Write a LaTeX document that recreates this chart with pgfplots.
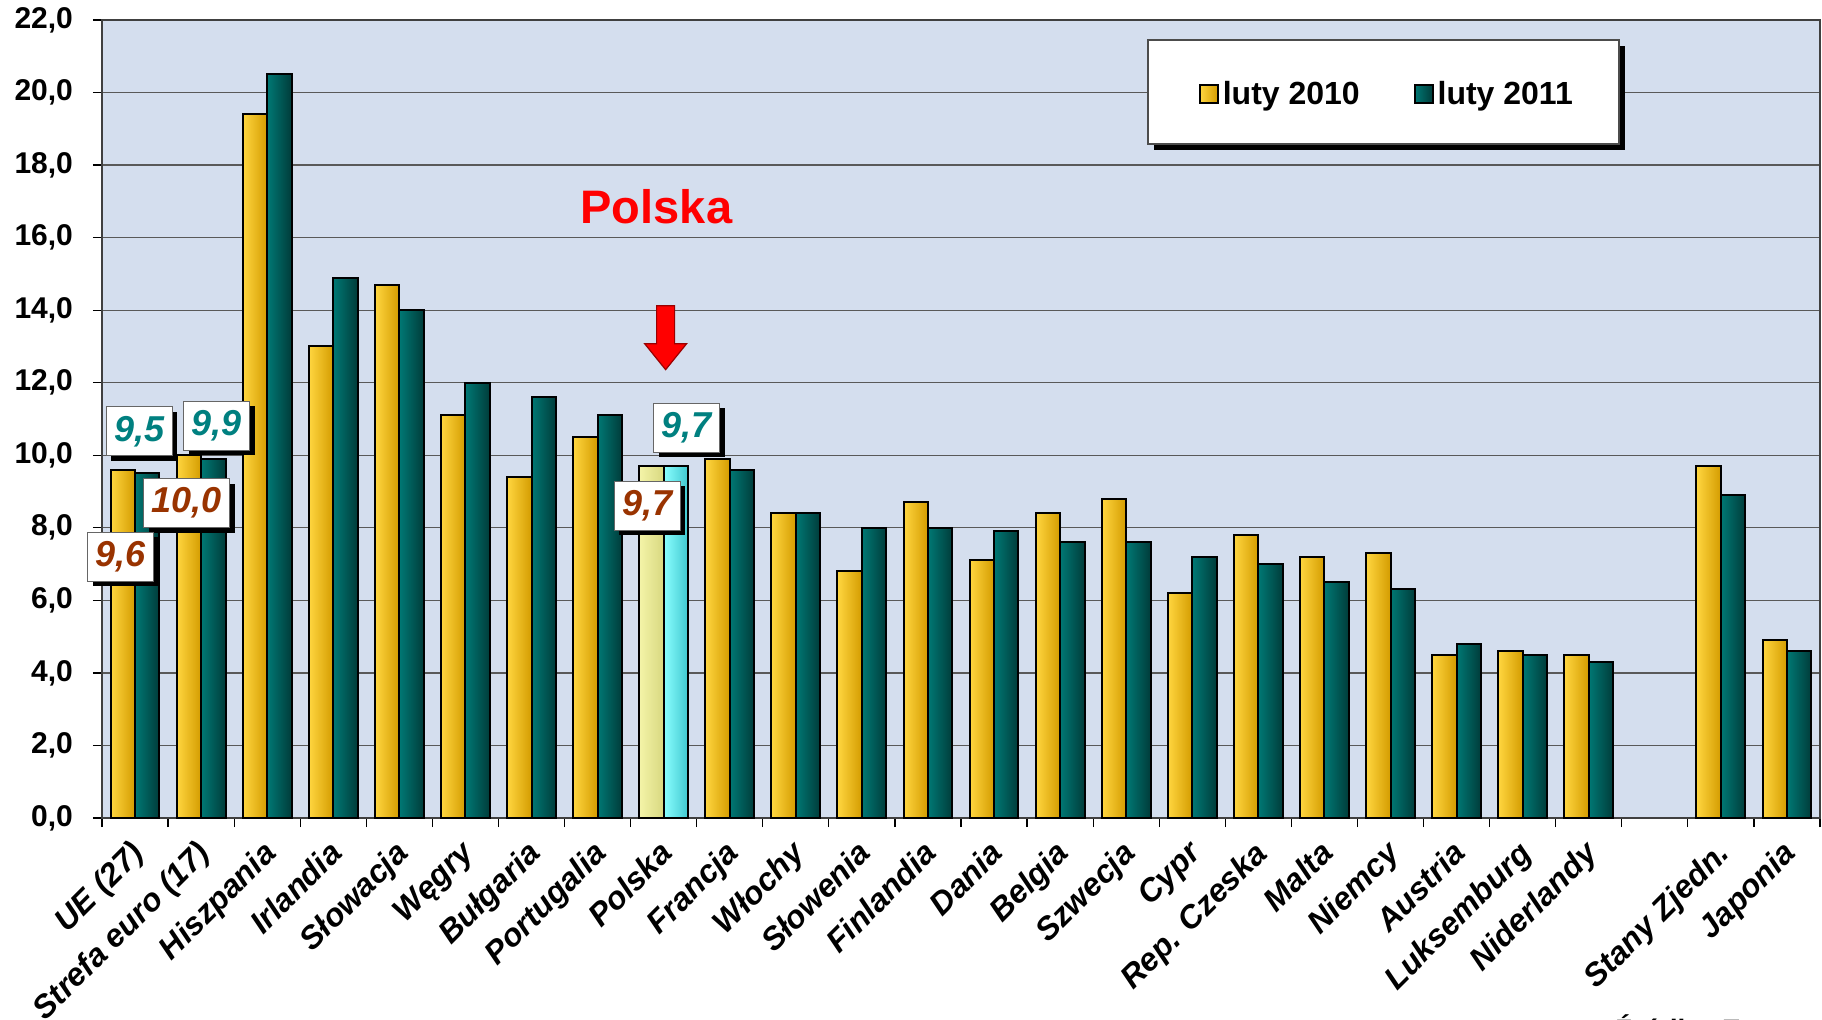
\documentclass[border=0pt]{standalone}
\usepackage{pgfplots}
\pgfplotsset{compat=1.18}
\usepackage{pgfplotstable}
\usepackage{fontspec}
\setmainfont{Liberation Sans}
\usetikzlibrary{shadows}
\definecolor{bgblue}{HTML}{D4DEEE}
\definecolor{yelL}{HTML}{FFD640}
\definecolor{yelM}{HTML}{FFCC00}
\definecolor{yelR}{HTML}{D49C00}
\definecolor{tealL}{HTML}{007874}
\definecolor{tealM}{HTML}{00625E}
\definecolor{tealR}{HTML}{003C3A}
\definecolor{plyL}{HTML}{F4F4A8}
\definecolor{plyM}{HTML}{FFFF9C}
\definecolor{plyR}{HTML}{D8D880}
\definecolor{plcL}{HTML}{8AFFFF}
\definecolor{plcM}{HTML}{66FFFF}
\definecolor{plcR}{HTML}{40C8D0}
\definecolor{labteal}{HTML}{008080}
\definecolor{labbrown}{HTML}{993300}

\pgfplotstableread{
x y2010 y2011
0 9.6 9.5
1 10.0 9.9
2 19.4 20.5
3 13.0 14.9
4 14.7 14.0
5 11.1 12.0
6 9.4 11.6
7 10.5 11.1
9 9.9 9.6
10 8.4 8.4
11 6.8 8.0
12 8.7 8.0
13 7.1 7.9
14 8.4 7.6
15 8.8 7.6
16 6.2 7.2
17 7.8 7.0
18 7.2 6.5
19 7.3 6.3
20 4.5 4.8
21 4.6 4.5
22 4.5 4.3
24 9.7 8.9
25 4.9 4.6
}\datatab
\pgfplotstableread{
x y2010 y2011
8 9.7 9.7
}\polska

\pgfplotsset{
  fill10/.style={left color=yelL, middle color=yelM, right color=yelR},
  fill11/.style={left color=tealL, middle color=tealM, right color=tealR},
  barbase/.style={forget plot, ybar, draw=black, line width=1pt},
}

\begin{document}
\begin{tikzpicture}
\begin{axis}[
  scale only axis,
  width=859pt, height=399pt,
  xmin=-0.5, xmax=25.5,
  ymin=0, ymax=22,
  ytick={0,2,...,22},
  xtick={0,...,25},
  xticklabels={UE (27),Strefa euro (17),Hiszpania,Irlandia,Słowacja,Węgry,Bułgaria,Portugalia,Polska,Francja,Włochy,Słowenia,Finlandia,Dania,Belgia,Szwecja,Cypr,Rep. Czeska,Malta,Niemcy,Austria,Luksemburg,Niderlandy,,Stany Zjedn.,Japonia},
  minor xtick={-0.5,0.5,...,25.5},
  major x tick style={draw=none},
  minor x tick style={black, line width=0.6pt},
  y tick style={black, line width=0.6pt},
  tick align=outside,
  xtick pos=bottom, ytick pos=left,
  major tick length=4.5pt, minor tick length=4.5pt,
  ymajorgrids,
  major grid style={black!65, line width=0.6pt},
  axis line style={black!75, line width=0.7pt},
  axis background/.style={fill=bgblue},
  /pgf/number format/assume math mode=true,
  yticklabel style={font=\fontsize{15pt}{18pt}\selectfont\bfseries, xshift=-6.5pt, /pgf/number format/.cd, fixed, fixed zerofill, precision=1, use comma},
  xticklabel style={font=\fontsize{16pt}{19pt}\selectfont\bfseries\itshape, xshift=-3pt, yshift=-1pt, rotate=45, anchor=north east},
  clip=false,
  legend columns=2,
  legend style={at={(0.7485,0.9070)}, anchor=center, draw=none, fill=none,
    font=\fontsize{16pt}{19pt}\selectfont\bfseries,
    /tikz/every even column/.append style={column sep=25pt}},
  legend image code/.code={\draw[#1] (0pt,-4.5pt) rectangle (9pt,4.5pt);},
  bar width=0.37,
]
\pgfplotsinvokeforeach{0,...,23}{
  \addplot[barbase, bar shift=-0.185, fill10, restrict expr to domain={\coordindex}{#1:#1}]
    table[x=x, y=y2010] {\datatab};
  \addplot[barbase, bar shift=0.185, fill11, restrict expr to domain={\coordindex}{#1:#1}]
    table[x=x, y=y2011] {\datatab};
}
\addplot[barbase, bar shift=-0.185, left color=plyL, middle color=plyM, right color=plyR]
  table[x=x, y=y2010] {\polska};
\addplot[barbase, bar shift=0.185, left color=plcL, middle color=plcM, right color=plcR]
  table[x=x, y=y2011] {\polska};

\addlegendimage{draw=black, line width=0.9pt, fill10}
\addlegendentry{luty 2010}
\addlegendimage{draw=black, line width=0.9pt, fill11}
\addlegendentry{luty 2011}

\draw[fill=white, draw=black!70, line width=0.6pt,
  drop shadow={shadow xshift=3pt, shadow yshift=-3pt, opacity=1, fill=black}]
  (rel axis cs:0.6088,0.8446) rectangle (rel axis cs:0.8830,0.975);

\tikzset{vlab/.style={fill=white, draw=black!60, line width=0.5pt,
   drop shadow={shadow xshift=2.5pt, shadow yshift=-2.5pt, opacity=1, fill=black},
   font=\fontsize{18pt}{21pt}\selectfont\bfseries\itshape, minimum height=24.5pt, inner xsep=4pt}}
\node[vlab, text=labteal] at (axis cs:0.063,10.66) {9,5};
\node[vlab, text=labteal] at (axis cs:1.24,10.82) {9,9};
\node[vlab, text=labbrown] at (axis cs:0.784,8.68) {10,0};
\node[vlab, text=labbrown] at (axis cs:-0.219,7.20) {9,6};
\node[vlab, text=labteal] at (axis cs:8.35,10.76) {9,7};
\node[vlab, text=labbrown] at (axis cs:7.75,8.61) {9,7};

\node[text=red, font=\fontsize{23.5pt}{28pt}\selectfont\bfseries] at (axis cs:7.89,16.84) {Polska};
\coordinate (tip) at (axis cs:8.03,12.36);
\end{axis}
\filldraw[fill=red, draw=red!60!black, line width=0.6pt] (tip) -- ++(-10.5pt,13pt) -- ++(6pt,0) -- ++(0,19pt) -- ++(9pt,0) -- ++(0,-19pt) -- ++(6pt,0) -- cycle;
\node[anchor=base west, inner sep=0pt, font=\fontsize{14pt}{17pt}\selectfont\bfseries] at (756.5pt,-110.5pt) {Źródło: Eurostat};
\pgfresetboundingbox
\path (-51pt,-100.5pt) rectangle (860pt,409pt);
\end{tikzpicture}
\end{document}
